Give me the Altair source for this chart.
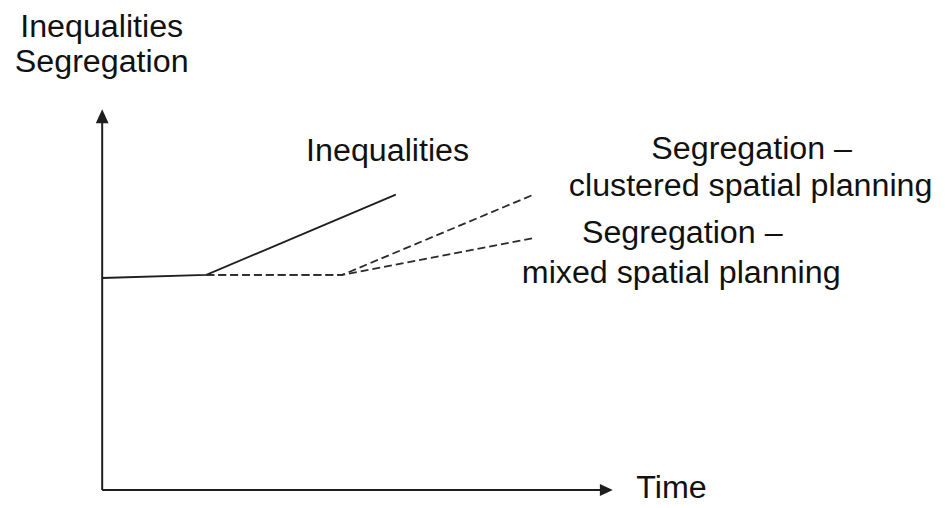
import altair as alt
import pandas as pd

# ---- data (time, level) ----
ineq_t = [0.0, 20.4, 57.5]
ineq_v = [55.7, 56.5, 77.6]

clus_t = [20.4, 47.0, 84.5]
clus_v = [56.5, 56.5, 77.6]

mixed_t = [20.4, 47.0, 84.3]
mixed_v = [56.5, 56.5, 66.1]

# centred labels
c_text = ["Inequalities", "Segregation –", "clustered spatial planning",
          "Segregation –", "mixed spatial planning", "Inequalities", "Segregation"]
c_x = [55.9, 127.2, 127.0, 113.6, 113.4, -0.1, -0.1]
c_y = [86.46, 86.98, 77.34, 64.84, 54.43, 119.0, 109.9]

# left aligned label
l_text = ["Time"]
l_x = [104.6]
l_y = [-2.2]

# axes
axis_x0 = [0, 0]
axis_y0 = [0, 0]
axis_x1 = [98.5, 0]
axis_y1 = [0, 97.5]
arrow_x = [100, 0]
arrow_y = [0, 100]
arrow_dir = ["right", "up"]

INK = "#1e1e1e"
FONT = "Liberation Sans"

xs = alt.Scale(domain=[0, 100], range=[95, 610])
ys = alt.Scale(domain=[0, 100], range=[484, 100])

ineq_df = pd.DataFrame({"t": ineq_t, "v": ineq_v})
seg_df = pd.concat([
    pd.DataFrame({"t": clus_t, "v": clus_v, "s": "clustered"}),
    pd.DataFrame({"t": mixed_t, "v": mixed_v, "s": "mixed"}),
])
cdf = pd.DataFrame({"t": c_x, "v": c_y, "label": c_text})
ldf = pd.DataFrame({"t": l_x, "v": l_y, "label": l_text})
axdf = pd.DataFrame({"t": axis_x0, "v": axis_y0, "t2": axis_x1, "v2": axis_y1})
ardf = pd.DataFrame({"t": arrow_x, "v": arrow_y, "d": arrow_dir})

X = lambda: alt.X("t:Q", scale=xs, axis=None)
Y = lambda: alt.Y("v:Q", scale=ys, axis=None)

axes = alt.Chart(axdf).mark_rule(color=INK, strokeWidth=2).encode(
    x=X(), y=Y(), x2="t2:Q", y2="v2:Q")

arrow_r = alt.Chart(ardf[ardf.d == "right"]).mark_point(
    shape="M0,0L-1,-0.46L-1,0.46Z", filled=True, color=INK, opacity=1, size=676
).encode(x=X(), y=Y())
arrow_u = alt.Chart(ardf[ardf.d == "up"]).mark_point(
    shape="M0,0L-0.46,1L0.46,1Z", filled=True, color=INK, opacity=1, size=784
).encode(x=X(), y=Y())

ineq = alt.Chart(ineq_df).mark_line(color=INK, strokeWidth=1.9).encode(x=X(), y=Y())
seg = alt.Chart(seg_df).mark_line(color="#2a2a2a", strokeWidth=1.8, strokeDash=[8, 4]).encode(
    x=X(), y=Y(), detail="s:N")

ctext = alt.Chart(cdf).mark_text(
    font=FONT, fontSize=32.5, color="#111", align="center", baseline="alphabetic"
).encode(x=X(), y=Y(), text="label:N")
ltext = alt.Chart(ldf).mark_text(
    font=FONT, fontSize=32.5, color="#111", align="left", baseline="alphabetic"
).encode(x=X(), y=Y(), text="label:N")

chart = alt.layer(axes, arrow_r, arrow_u, ineq, seg, ctext, ltext).properties(
    width=937, height=500,
    autosize=alt.AutoSizeParams(type="none"),
    padding=0,
).configure_view(stroke=None)

chart.save("out.html", embed_options={"renderer": "svg", "actions": False})
